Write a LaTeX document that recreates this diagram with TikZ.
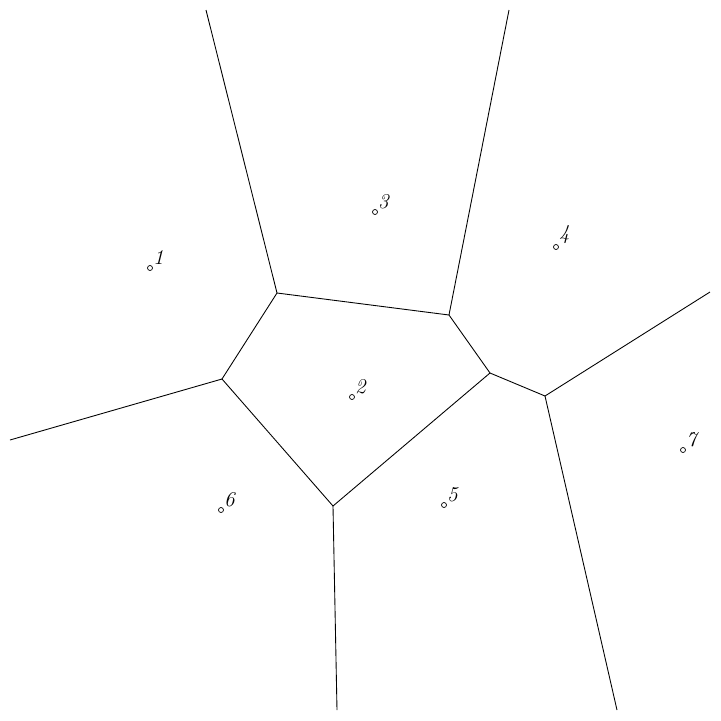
\documentclass[tikz,border=0pt]{standalone}
\begin{document}
\begin{tikzpicture}[x=0.02cm,y=-0.02cm,
  site/.style={circle,draw,inner sep=0pt,minimum size=0.1cm,line width=0.4pt},
  num/.style={inner sep=0.5pt,anchor=south west,font=\large\itshape},
  edge/.style={line width=0.5pt}]
\useasboundingbox (0,0) rectangle (721,721);
% sites
\node[site,label={[num]north east:1}] (s1) at (150,268) {};
\node[site,label={[num]north east:2}] (s2) at (352,397) {};
\node[site,label={[num]north east:3}] (s3) at (375,212) {};
\node[site,label={[num]north east:4}] (s4) at (556,247) {};
\node[site,label={[num]north east:5}] (s5) at (444,505) {};
\node[site,label={[num]north east:6}] (s6) at (221,510) {};
\node[site,label={[num]north east:7}] (s7) at (683,450) {};
% vertices
\coordinate (A) at (277,293);
\coordinate (B) at (449,315);
\coordinate (C) at (490,373);
\coordinate (D) at (545,396);
\coordinate (E) at (333,506);
\coordinate (F) at (222,379);
% ray ends
\coordinate (rA) at (206,10);
\coordinate (rB) at (509,10);
\coordinate (rD1) at (710,292);
\coordinate (rD2) at (617,710);
\coordinate (rE) at (337,710);
\coordinate (rF) at (10,440);
\draw[edge] (A) -- (B) -- (C) -- (D);
\draw[edge] (C) -- (E) -- (F) -- (A);
\draw[edge] (A) -- (rA);
\draw[edge] (B) -- (rB);
\draw[edge] (D) -- (rD1);
\draw[edge] (D) -- (rD2);
\draw[edge] (E) -- (rE);
\draw[edge] (F) -- (rF);
\end{tikzpicture}
\end{document}
